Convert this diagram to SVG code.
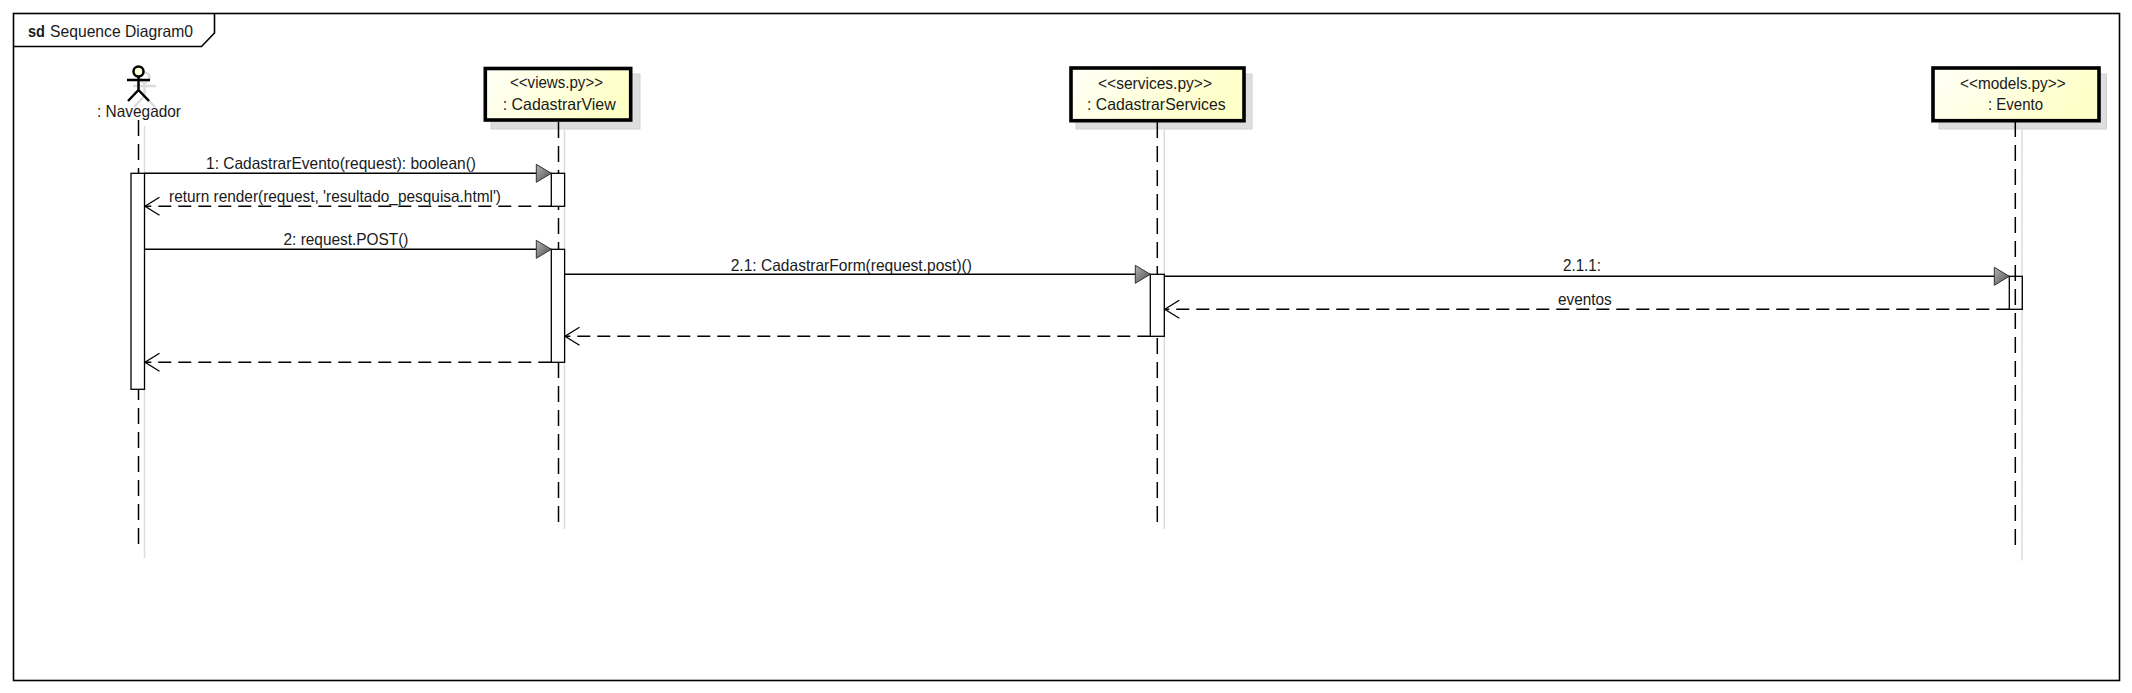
<svg xmlns="http://www.w3.org/2000/svg" width="2132" height="693" viewBox="0 0 2132 693">
<style>
text{font-family:"Liberation Sans",Arial,sans-serif;font-size:16.500px;fill:#1a1a1a}
.frame{fill:none;stroke:#000;stroke-width:1.6}
.box{fill:url(#note);stroke:#000;stroke-width:3.6}
.shadow{fill:#dedede;stroke:#d2d2d2;stroke-width:1}
.life{fill:none;stroke:#000;stroke-width:1.5;stroke-dasharray:16 8}
.lifeshadow{fill:none;stroke:#dcdcdc;stroke-width:1.5}
.act{fill:#fff;stroke:#000;stroke-width:1.3}
.call{fill:none;stroke:#000;stroke-width:1.4;marker-end:url(#tri)}
.ret{fill:none;stroke:#000;stroke-width:1.4;stroke-dasharray:13 7;marker-end:url(#open)}
.actor{fill:none;stroke:#000;stroke-width:2.500}
.actorshadow{fill:none;stroke:#dcdcdc;stroke-width:2.500}
</style>
<defs>
<linearGradient id="note" x1="0" y1="0" x2="1" y2="0.3"><stop offset="0" stop-color="#fffff8"/><stop offset="1" stop-color="#ffffc8"/></linearGradient>
<linearGradient id="head" x1="0" y1="0" x2="1" y2="1"><stop offset="0" stop-color="#b4b4b4"/><stop offset="1" stop-color="#4c4c4c"/></linearGradient>
<marker id="tri" markerUnits="userSpaceOnUse" markerWidth="18" markerHeight="22" refX="16" refY="11" orient="auto"><path d="M1 2L16 11L1 20Z" fill="url(#head)" stroke="#333" stroke-width="1"/></marker>
<marker id="open" markerUnits="userSpaceOnUse" markerWidth="18" markerHeight="22" refX="16" refY="11" orient="auto"><path d="M1.500 2L16 11L1.500 20" fill="none" stroke="#000" stroke-width="1.300"/></marker>
</defs>

<g id="frame">
<rect class="frame" x="13.500" y="13.500" width="2106" height="667"/>
<path class="frame" d="M13.500 46.500H201.500L214.500 33V13.500"/>
<text x="28" y="36.700" font-weight="700" textLength="17" lengthAdjust="spacingAndGlyphs">sd</text>
<text x="50" y="36.700" textLength="143" lengthAdjust="spacingAndGlyphs">Sequence Diagram0</text>
</g>

<g id="navegador">
<path class="lifeshadow" d="M144.500 126V558"/>
<g transform="translate(6 6)"><circle class="actorshadow" cx="138.500" cy="71.500" r="5"/><path class="actorshadow" d="M138.500 77V90M127 80H150M128 101L138.500 90L149 101"/></g>
<circle cx="138.500" cy="71.500" r="5" fill="#ffffd8" stroke="#000" stroke-width="2.500"/>
<path class="actor" d="M138.500 77V90M127 80H150M128 101L138.500 90L149 101"/>
<text x="97" y="116.700" textLength="84" lengthAdjust="spacingAndGlyphs">: Navegador</text>
<path class="life" d="M138.500 120V544"/>
<rect class="act" x="131" y="173.300" width="13.500" height="216"/>
</g>

<g id="cadastrarview">
<rect class="shadow" x="491" y="74" width="149" height="55"/>
<path class="lifeshadow" d="M564.500 129V529"/>
<path class="life" d="M558.500 122V522"/>
<rect class="box" x="485.300" y="68.500" width="145.400" height="51.500"/>
<text x="510" y="88" textLength="93" lengthAdjust="spacingAndGlyphs">&lt;&lt;views.py&gt;&gt;</text>
<text x="502.700" y="110" textLength="113" lengthAdjust="spacingAndGlyphs">: CadastrarView</text>
<rect class="act" x="551.300" y="173.300" width="13.300" height="33"/>
<rect class="act" x="551.300" y="249.300" width="13.300" height="113"/>
</g>

<g id="cadastrarservices">
<rect class="shadow" x="1076" y="74" width="176" height="55"/>
<path class="lifeshadow" d="M1164.300 129V529"/>
<path class="life" d="M1157.300 122V522"/>
<rect class="box" x="1071" y="68" width="173" height="52.700"/>
<text x="1098" y="88.500" textLength="114" lengthAdjust="spacingAndGlyphs">&lt;&lt;services.py&gt;&gt;</text>
<text x="1087" y="110" textLength="138.700" lengthAdjust="spacingAndGlyphs">: CadastrarServices</text>
<rect class="act" x="1150.300" y="274.300" width="14" height="62"/>
</g>

<g id="evento">
<rect class="shadow" x="1939" y="74" width="167.500" height="55"/>
<path class="lifeshadow" d="M2022 129V560.500"/>
<rect class="box" x="1933" y="68" width="166" height="52.700"/>
<text x="1960" y="88.500" textLength="105.700" lengthAdjust="spacingAndGlyphs">&lt;&lt;models.py&gt;&gt;</text>
<text x="1988" y="110" textLength="55" lengthAdjust="spacingAndGlyphs">: Evento</text>
<rect x="2009.300" y="276.300" width="13" height="33" fill="none" stroke="#000" stroke-width="1.300"/>
<path class="life" d="M2015.300 121V545"/>
</g>

<g id="connectors">
<path class="call" d="M144.500 173.300H551.300"/>
<text x="206" y="169" textLength="270" lengthAdjust="spacingAndGlyphs">1: CadastrarEvento(request): boolean()</text>
<path class="ret" d="M551.300 206.300H145"/>
<text x="169" y="202" textLength="332" lengthAdjust="spacingAndGlyphs">return render(request, 'resultado_pesquisa.html')</text>
<path class="call" d="M144.500 249.300H551.300"/>
<text x="283.500" y="245" textLength="125" lengthAdjust="spacingAndGlyphs">2: request.POST()</text>
<path class="call" d="M564.600 274.300H1150.300"/>
<text x="730.700" y="270.700" textLength="241.300" lengthAdjust="spacingAndGlyphs">2.1: CadastrarForm(request.post)()</text>
<path class="call" d="M1164.300 276.300H2009.300"/>
<text x="1563" y="270.700" textLength="38" lengthAdjust="spacingAndGlyphs">2.1.1:</text>
<path class="ret" d="M2009.300 309.300H1164.800"/>
<text x="1558" y="305" textLength="53.700" lengthAdjust="spacingAndGlyphs">eventos</text>
<path class="ret" d="M1150.300 336.300H565"/>
<path class="ret" d="M551.300 362.300H145"/>
</g>
</svg>
